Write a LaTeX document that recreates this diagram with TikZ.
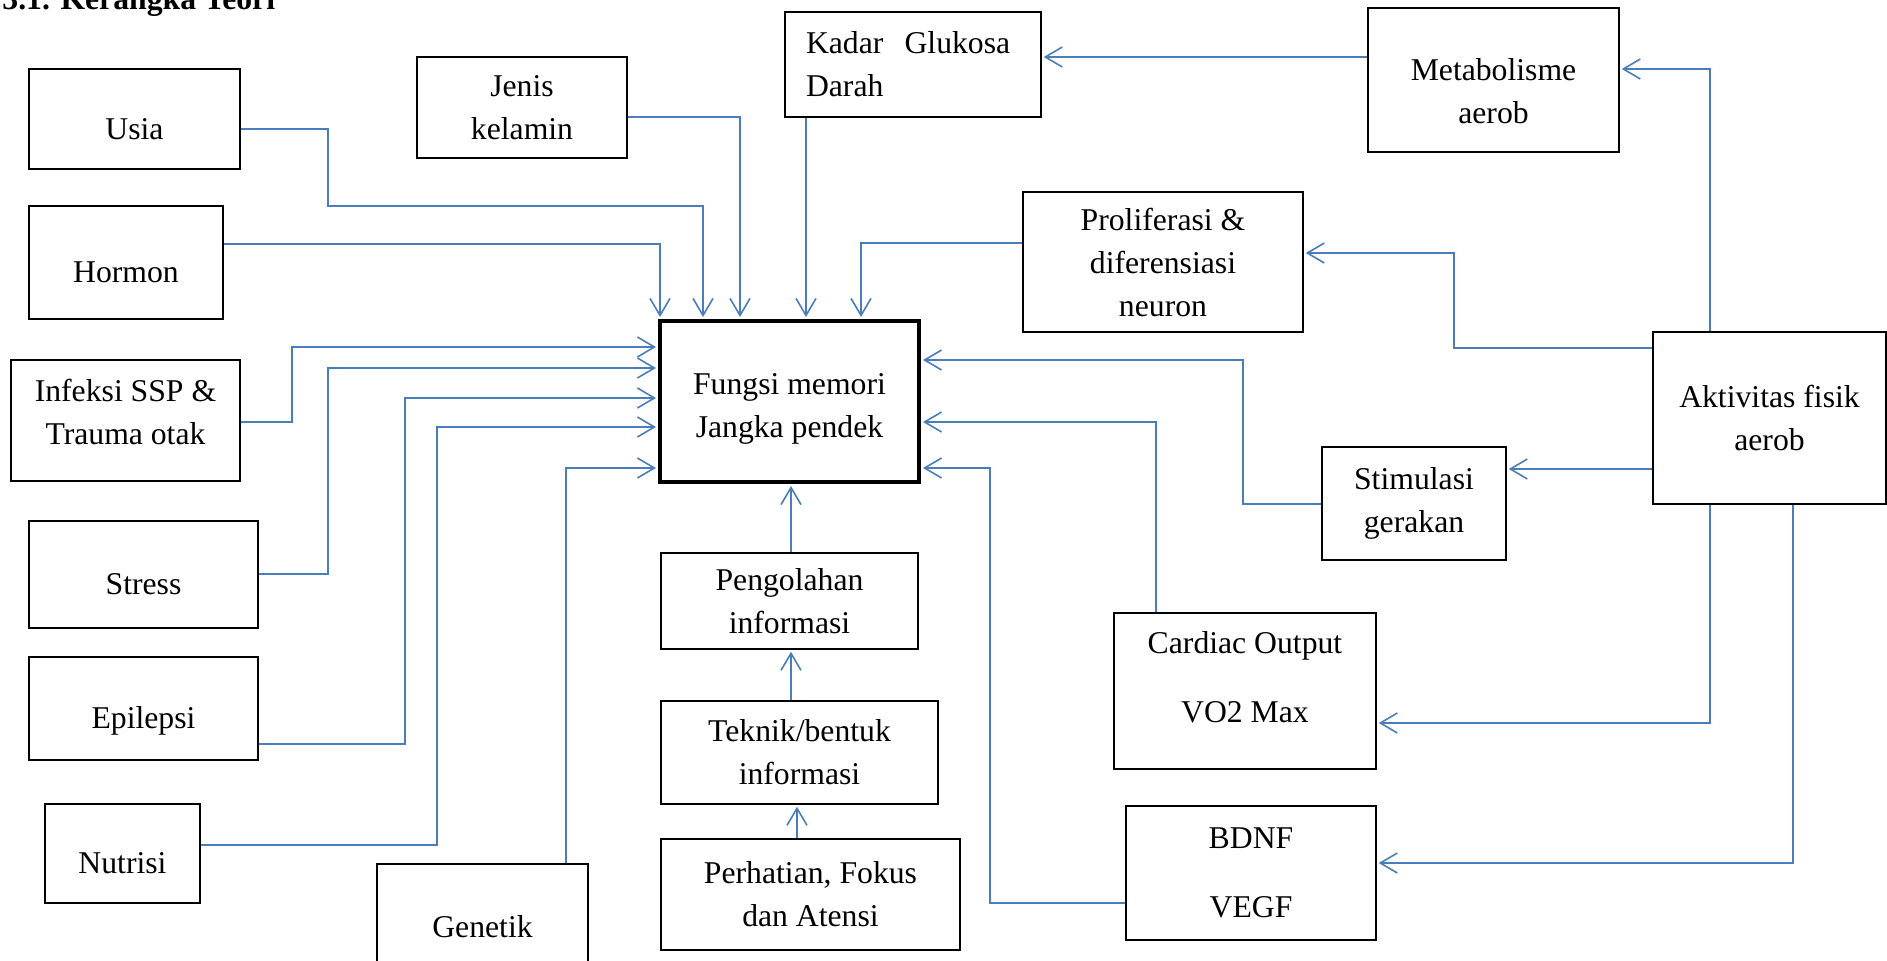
\documentclass[tikz,border=0pt]{standalone}
\usepackage{fontspec}
\setmainfont{Liberation Serif}
\usepackage{tikz}
\usetikzlibrary{arrows.meta}
\definecolor{linkblue}{RGB}{74,126,187}
\tikzstyle{factorbox}=[rectangle,draw=black,line width=0.75pt,align=center,inner sep=0pt,font=\fontsize{15.85}{21.5}\selectfont]
\tikzstyle{mainbox}=[factorbox,line width=2pt]
\tikzstyle{lowtext}=[text height=20pt,text depth=0pt]
\tikzstyle{linkpath}=[-{Straight Barb[length=8.5pt,width=10pt]},draw=linkblue,line width=0.8pt,shorten >=1pt]

\begin{document}
\begin{tikzpicture}[x=0.5pt,y=-0.5pt]
        \useasboundingbox (0,0) rectangle (1887,960);
        \node[anchor=base west,inner sep=0pt,font=\bfseries\fontsize{15.85}{21.5}\selectfont] (title) at (2,9) {3.1. Kerangka Teori};

        \node[factorbox,lowtext,minimum width=105.5pt,minimum height=50pt] (usia) at (134.5,119) {Usia};
        \node[factorbox,lowtext,minimum width=97pt,minimum height=56.5pt] (hormon) at (126,262.5) {Hormon};
        \node[factorbox,text depth=9pt,minimum width=114.5pt,minimum height=60.5pt] (infeksi) at (125.5,420.5) {Infeksi SSP \&\\Trauma otak};
        \node[factorbox,lowtext,minimum width=114.5pt,minimum height=53.5pt] (stress) at (143.5,574.5) {Stress};
        \node[factorbox,lowtext,minimum width=114.5pt,minimum height=51.5pt] (epilepsi) at (143.5,708.5) {Epilepsi};
        \node[factorbox,lowtext,minimum width=77.5pt,minimum height=49.5pt] (nutrisi) at (122.5,853.5) {Nutrisi};
        \node[factorbox,minimum width=105.5pt,minimum height=63pt] (genetik) at (482.5,927) {Genetik};
        \node[factorbox,minimum width=105pt,minimum height=50.5pt] (jenis) at (522,107.5) {Jenis\\kelamin};
        \node[factorbox,align=left,text width=107pt,minimum width=128pt,minimum height=52.5pt] (kadar) at (913,64.5) {Kadar\ \ Glukosa\\Darah};
        \node[factorbox,text height=43pt,text depth=0pt,minimum width=125.5pt,minimum height=72pt] (metab) at (1493.5,80) {Metabolisme\\aerob};
        \node[factorbox,minimum width=140pt,minimum height=70pt] (prolif) at (1163,262) {Proliferasi \&\\diferensiasi\\neuron};
        \node[mainbox,text height=39pt,minimum width=129.5pt,minimum height=80.5pt] (fungsi) at (789.5,401.5) {Fungsi memori\\Jangka pendek};
        \node[factorbox,minimum width=128.5pt,minimum height=48pt] (pengolahan) at (789.5,601) {Pengolahan\\informasi};
        \node[factorbox,minimum width=138.5pt,minimum height=51.5pt] (teknik) at (799.5,752.5) {Teknik/bentuk\\informasi};
        \node[factorbox,minimum width=149.5pt,minimum height=55.5pt] (perhatian) at (810.5,894.5) {Perhatian, Fokus\\dan Atensi};
        \node[factorbox,text depth=14pt,minimum width=131pt,minimum height=78pt] (cardiac) at (1245,691) {Cardiac Output\\[13pt]VO2 Max};
        \node[factorbox,minimum width=125pt,minimum height=67pt] (bdnf) at (1251,873) {BDNF\\[13pt]VEGF};
        \node[mainbox,line width=1.3pt,minimum width=116.5pt,minimum height=86pt] (aktivitas) at (1769.5,418) {Aktivitas fisik\\aerob};
        \node[factorbox,minimum width=92pt,minimum height=56.5pt] (stimulasi) at (1414,503.5) {Stimulasi\\gerakan};

        \draw[linkpath] (usia.east |- 0,129) -- (328,129) -- (328,206) -- (703,206) -- (703,0 |- fungsi.north);
        \draw[linkpath] (hormon.east |- 0,244) -- (660,244) -- (660,0 |- fungsi.north);
        \draw[linkpath] (jenis.east |- 0,117) -- (740,117) -- (740,0 |- fungsi.north);
        \draw[linkpath] (806,0 |- kadar.south) -- (806,0 |- fungsi.north);
        \draw[linkpath] (prolif.west |- 0,243) -- (861,243) -- (861,0 |- fungsi.north);

        \draw[linkpath] (infeksi.east |- 0,422) -- (292,422) -- (292,347) -- (fungsi.west |- 0,347);
        \draw[linkpath] (stress.east |- 0,574) -- (328,574) -- (328,368) -- (fungsi.west |- 0,368);
        \draw[linkpath] (epilepsi.east |- 0,744) -- (405,744) -- (405,398) -- (fungsi.west |- 0,398);
        \draw[linkpath] (nutrisi.east |- 0,845) -- (437,845) -- (437,427) -- (fungsi.west |- 0,427);
        \draw[linkpath] (566,0 |- genetik.north) -- (566,468) -- (fungsi.west |- 0,468);

        \draw[linkpath] (stimulasi.west |- 0,504) -- (1243,504) -- (1243,360) -- (fungsi.east |- 0,360);
        \draw[linkpath] (1156,0 |- cardiac.north) -- (1156,422) -- (fungsi.east |- 0,422);
        \draw[linkpath] (bdnf.west |- 0,903) -- (990,903) -- (990,468) -- (fungsi.east |- 0,468);

        \draw[linkpath] (791,0 |- pengolahan.north) -- (791,0 |- fungsi.south);
        \draw[linkpath] (791,0 |- teknik.north) -- (791,0 |- pengolahan.south);
        \draw[linkpath] (797,0 |- perhatian.north) -- (797,0 |- teknik.south);

        \draw[linkpath] (metab.west |- 0,57) -- (kadar.east |- 0,57);
        \draw[linkpath] (1710,0 |- aktivitas.north) -- (1710,69) -- (metab.east |- 0,69);
        \draw[linkpath] (aktivitas.west |- 0,348) -- (1454,348) -- (1454,253) -- (prolif.east |- 0,253);
        \draw[linkpath] (aktivitas.west |- 0,469) -- (stimulasi.east |- 0,469);
        \draw[linkpath] (1710,0 |- aktivitas.south) -- (1710,723) -- (cardiac.east |- 0,723);
        \draw[linkpath] (1793,0 |- aktivitas.south) -- (1793,863) -- (bdnf.east |- 0,863);
\end{tikzpicture}
\end{document}
